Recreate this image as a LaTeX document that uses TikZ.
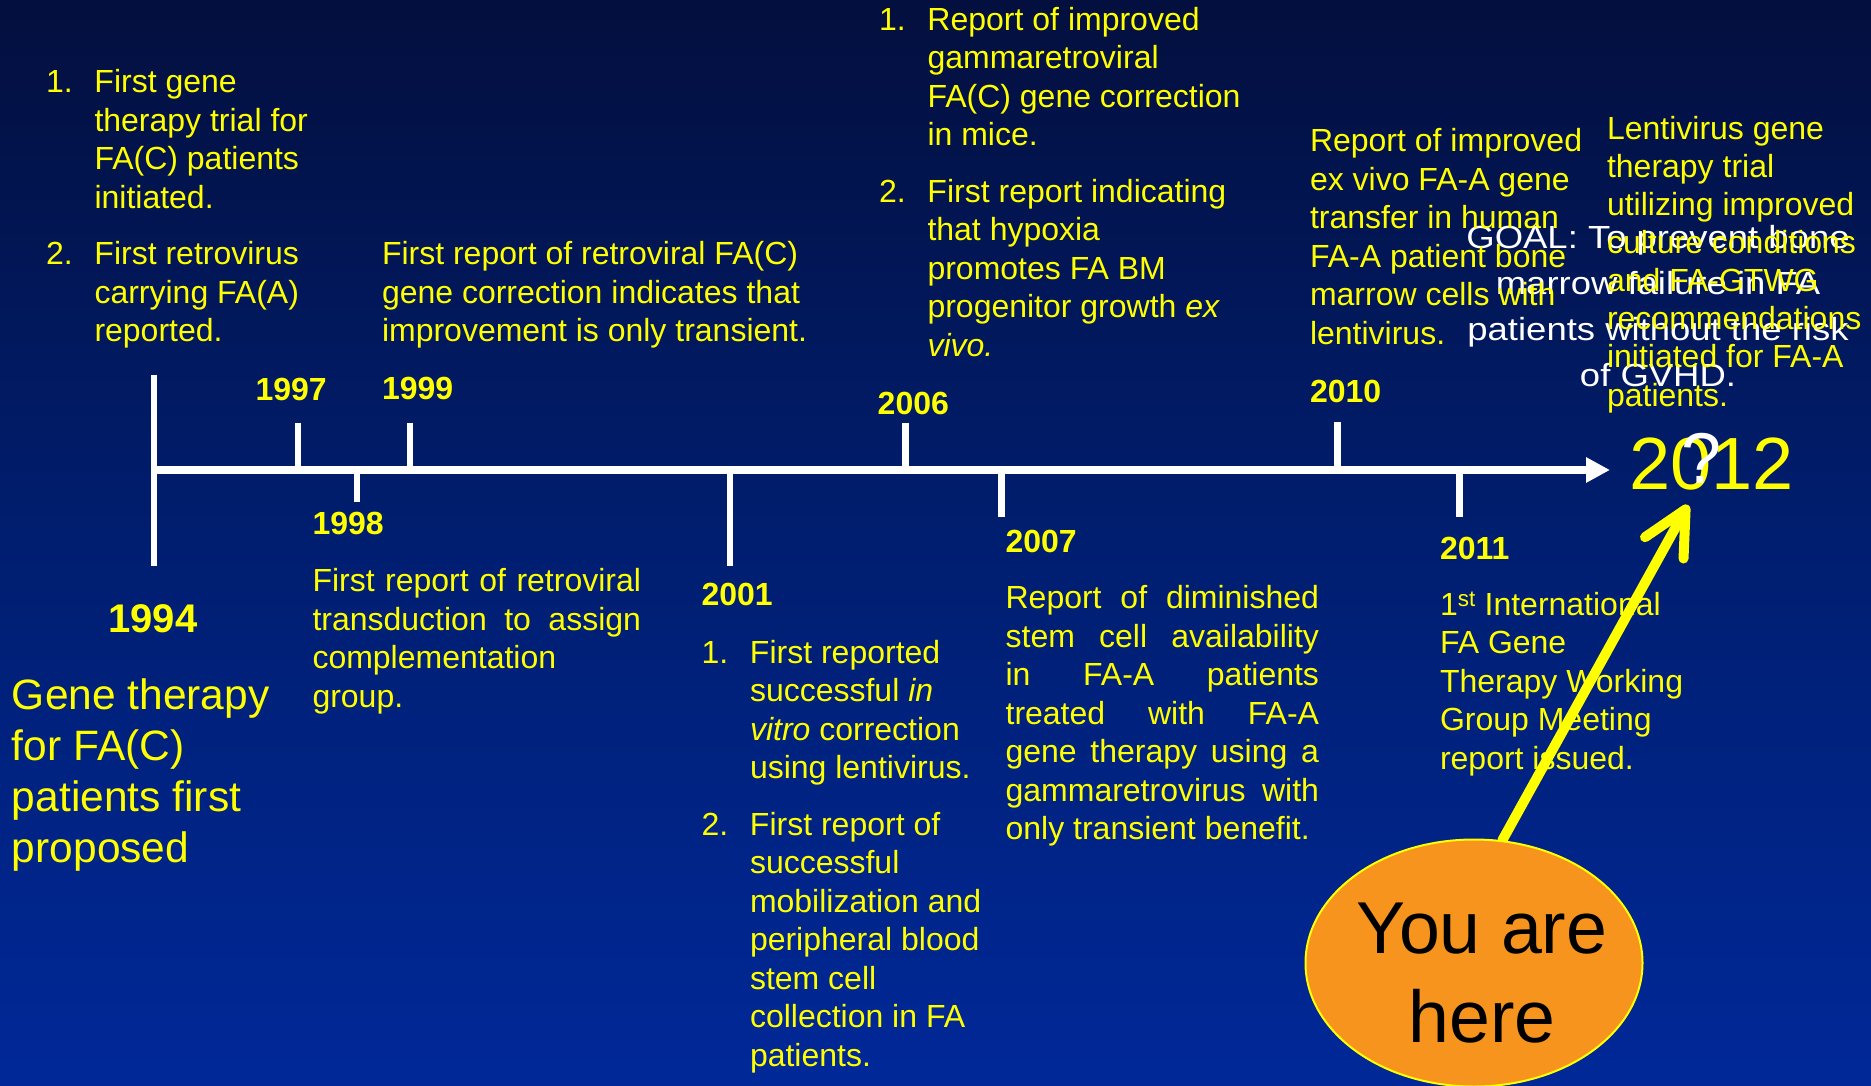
\documentclass[tikz,border=0pt]{standalone}
\usepackage{fontspec}
\setmainfont{Liberation Sans}
\newfontfamily\goalfont[FakeStretch=1.14]{Liberation Sans}
\usetikzlibrary{arrows.meta,shapes.geometric}
\definecolor{bgtop}{RGB}{3,15,62}
\definecolor{bgmid}{RGB}{0,30,112}
\definecolor{bgbot}{RGB}{0,40,152}
\definecolor{hereorange}{RGB}{247,148,29}
\definecolor{ylw}{RGB}{255,255,0}
\newcommand{\itm}[1]{\makebox[48.5pt][l]{#1}}
\newcommand{\ind}{\hspace*{48.5pt}}
\pgfdeclarelayer{backlayer}
\pgfdeclarelayer{midlayer}
\pgfsetlayers{backlayer,midlayer,main}
\begin{document}
\begin{tikzpicture}[x=1pt,y=-1pt,
  txt/.style={inner sep=0pt, outer sep=0pt, text=ylw, align=left, anchor=base west, font=\fontsize{32}{38.5}\selectfont},
  yr/.style={inner sep=0pt, outer sep=0pt, text=ylw, anchor=base west, font=\fontsize{32}{38.5}\selectfont\bfseries},
  axisline/.style={draw=white, line width=7.5pt},
  tickline/.style={draw=white, line width=6.5pt},
]
\useasboundingbox (0,0) rectangle (1871,1086);
\begin{pgfonlayer}{backlayer}
\shade[top color=bgtop, bottom color=bgbot, middle color=bgmid] (0,0) rectangle (1871,1086);
\end{pgfonlayer}

% timeline
\coordinate (a94top) at (154,374.5);
\coordinate (a94bot) at (154,566);
\coordinate (axstart) at (154,470);
\coordinate (axend) at (1610,470);
\draw[tickline] (a94top) -- (a94bot);
\draw[axisline,-{Triangle[length=24pt,width=24pt]}] (axstart) -- (axend);

\coordinate (t97) at (298,470);   \coordinate (t97e) at (298,422.5);
\coordinate (t99) at (410,470);   \coordinate (t99e) at (410,422.5);
\coordinate (t06) at (905.6,470); \coordinate (t06e) at (905.6,422.5);
\coordinate (t10) at (1337.6,470);\coordinate (t10e) at (1337.6,422);
\coordinate (t98) at (357,470);   \coordinate (t98e) at (357,501.5);
\coordinate (t01) at (730,470);   \coordinate (t01e) at (730,566);
\coordinate (t07) at (1001.6,470);\coordinate (t07e) at (1001.6,517);
\coordinate (t11) at (1459.7,470);\coordinate (t11e) at (1459.7,517);
\foreach \a in {97,99,06,10,98,01,07,11} {\draw[tickline] (t\a) -- (t\a e);}

% year labels
\node[yr] (y97) at (255.5,400) {1997};
\node[yr] (y99) at (382,399) {1999};
\node[yr] (y06) at (877.7,414) {2006};
\node[yr] (y10) at (1310,402) {2010};
\node[yr] (y98) at (312.5,534.4) {1998};
\node[yr] (y01) at (701.5,605.8) {2001};
\node[yr] (y07) at (1005.6,552) {2007};
\node[yr] (y11) at (1440,559.5) {2011};
\node[yr, anchor=base, font=\fontsize{40}{48}\selectfont\bfseries] (y94) at (153,632.7) {1994};

% top texts (anchored at the baseline of their last line)
\node[txt] (b94) at (46,341.8) {\itm{1.}First gene\\ \ind therapy trial for\\ \ind FA(C) patients\\ \ind initiated.\\[18pt] \itm{2.}First retrovirus\\ \ind carrying FA(A)\\ \ind reported.};
\node[txt] (b99) at (382,341.8) {First report of retroviral FA(C)\\gene correction indicates that\\improvement is only transient.};
\node[txt] (b06) at (879,356) {\itm{1.}Report of improved\\ \ind gammaretroviral\\ \ind FA(C) gene correction\\ \ind in mice.\\[18pt] \itm{2.}First report indicating\\ \ind that hypoxia\\ \ind promotes FA BM\\ \ind progenitor growth \textit{ex}\\ \ind \textit{vivo.}};

% goal (white) then yellow texts
\node[inner sep=0pt, text=white, align=center, anchor=base, font=\goalfont\fontsize{32}{46}\selectfont] (goal) at (1658,386) {GOAL: To prevent bone\\marrow failure in FA\\patients without the risk\\of GVHD.};
\node[txt] (b10) at (1310,344) {Report of improved\\ex vivo FA-A gene\\transfer in human\\FA-A patient bone\\marrow cells with\\lentivirus.};
\node[txt, font=\fontsize{32}{38.1}\selectfont] (b12) at (1607,406) {Lentivirus gene\\therapy trial\\utilizing improved\\culture conditions\\and FA-GTWG\\recommendations\\initiated for FA-A\\patients.};

% 2012
\node[inner sep=0pt, text=ylw, anchor=base west, font=\fontsize{74}{80}\selectfont] (y12) at (1629,489) {2012};
\node[inner sep=0pt, text=white, anchor=base, font=\fontsize{72}{80}\selectfont] (qmark) at (1701,483) {?};

% bottom texts
\node[txt, font=\fontsize{42.5}{51}\selectfont] (b94b) at (12,862.5) {Gene therapy\\for FA(C)\\patients first\\proposed};
\node[txt] (b98) at (312.5,707.4) {\makebox[328.5pt][s]{First report of retroviral}\\\makebox[328.5pt][s]{transduction to assign}\\complementation\\group.};
\node[txt] (b01) at (701.5,1066) {\itm{1.}First reported\\ \ind successful \textit{in}\\ \ind \textit{vitro} correction\\ \ind using lentivirus.\\[18pt] \itm{2.}First report of\\ \ind successful\\ \ind mobilization and\\ \ind peripheral blood\\ \ind stem cell\\ \ind collection in FA\\ \ind patients.};
\node[txt] (b07) at (1005.6,839.5) {\makebox[313.4pt][s]{Report of diminished}\\\makebox[313.4pt][s]{stem cell availability}\\\makebox[313.4pt][s]{in FA-A patients}\\\makebox[313.4pt][s]{treated with FA-A}\\\makebox[313.4pt][s]{gene therapy using a}\\\makebox[313.4pt][s]{gammaretrovirus with}\\only transient benefit.};
\node[txt] (b11) at (1440,769.3) {1\textsuperscript{st} International\\FA Gene\\Therapy Working\\Group Meeting\\report issued.};

% you are here
\node[ellipse, draw=ylw, line width=2pt, fill=hereorange, minimum width=337pt, minimum height=247pt, inner sep=0pt] (here) at (1474,963) {};
\coordinate (tip12) at (1688,505);
\begin{pgfonlayer}{midlayer}
\draw[ylw, line width=10pt, line cap=round, -{Straight Barb[length=44pt,width=44pt,round]}] (here.77) -- (tip12);
\end{pgfonlayer}
\node[inner sep=0pt, text=black, align=center, anchor=base, font=\fontsize{73.5}{89}\selectfont] (yah) at (1482,1042.3) {You are\\here};
\end{tikzpicture}
\end{document}
